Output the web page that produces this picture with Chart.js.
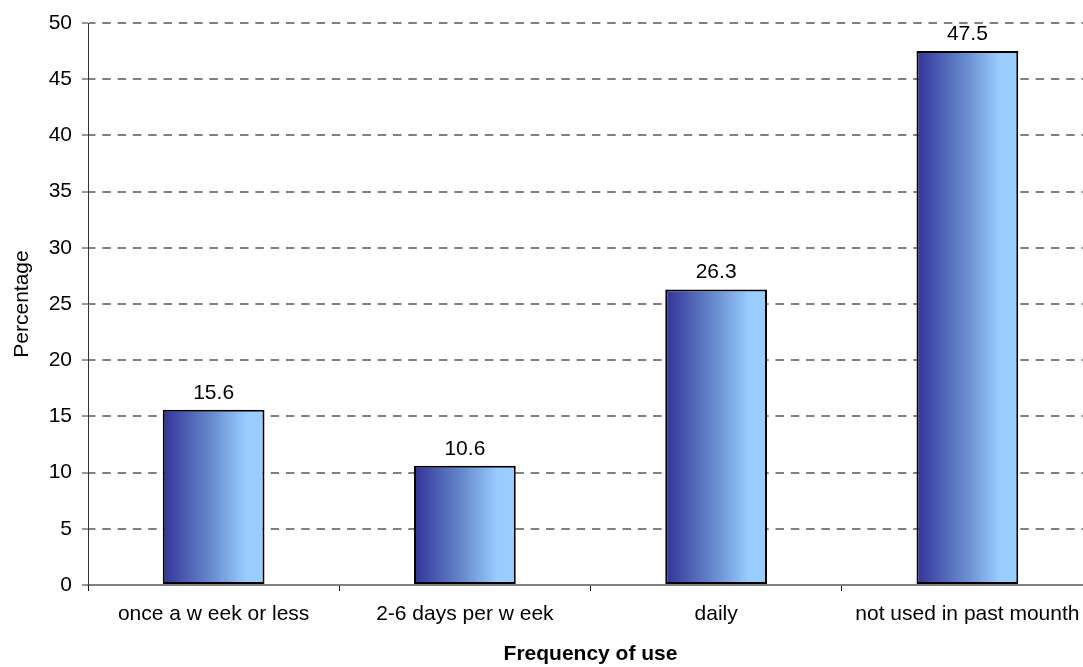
<!DOCTYPE html>
<html>
<head>
<meta charset="utf-8">
<script src="https://cdn.jsdelivr.net/npm/chart.js@4/dist/chart.umd.min.js"></script>
<style>
  html, body { margin: 0; padding: 0; background: #fff; overflow: hidden; }
  #wrap { width: 1083px; height: 667px; overflow: hidden; }
  canvas { display: block; }
</style>
</head>
<body>
<div id="wrap"><canvas id="chart" width="1100" height="667"></canvas></div>
<script>
// Frequency of use categories and their percentages
const categories = [
  'once a w eek or less',
  '2-6 days per w eek',
  'daily',
  'not used in past mounth'
];
const percentages = [15.6, 10.6, 26.3, 47.5];
const yTicks = [0, 5, 10, 15, 20, 25, 30, 35, 40, 45, 50];

const FONT = 'Liberation Sans, Arial, sans-serif';
const BAR_PCT = 0.405;

// Horizontal dark-to-light blue fill, built per bar from the x scale
function barGradient(context) {
  const chart = context.chart;
  const xScale = chart.scales.x;
  if (!chart.chartArea || !xScale || context.dataIndex === undefined) return '#6a8ed0';
  const cx = xScale.getPixelForValue(context.dataIndex);
  const half = (xScale.width / categories.length) * BAR_PCT / 2;
  const g = chart.ctx.createLinearGradient(cx - half, 0, cx + half, 0);
  g.addColorStop(0, '#333399');
  g.addColorStop(0.5, '#6a8ed0');
  g.addColorStop(0.82, '#99ccff');
  g.addColorStop(1, '#99ccff');
  return g;
}

// Value written above each bar
const valueLabels = {
  id: 'valueLabels',
  afterDatasetsDraw(chart) {
    const ctx = chart.ctx;
    const ds = chart.data.datasets[0];
    ctx.save();
    ctx.font = '21px ' + FONT;
    ctx.fillStyle = '#000';
    ctx.textAlign = 'center';
    ctx.textBaseline = 'alphabetic';
    chart.getDatasetMeta(0).data.forEach((bar, i) => {
      ctx.fillText(ds.data[i].toFixed(1), bar.x, bar.y - 11);
    });
    ctx.restore();
  }
};

new Chart(document.getElementById('chart'), {
  type: 'bar',
  data: {
    labels: categories,
    datasets: [{
      data: percentages,
      backgroundColor: barGradient,
      borderColor: '#000',
      borderWidth: 2,
      borderSkipped: false,
      categoryPercentage: 1,
      barPercentage: BAR_PCT
    }]
  },
  options: {
    responsive: false,
    animation: false,
    layout: { padding: { top: 23, right: 7, bottom: 0, left: 0 } },
    plugins: {
      legend: { display: false },
      tooltip: { enabled: false }
    },
    scales: {
      x: {
        offset: true,
        grid: {
          display: true,
          drawOnChartArea: false,
          drawTicks: true,
          offset: true,
          tickLength: 6,
          tickColor: '#000',
          tickWidth: 1
        },
        border: { display: true, color: '#808080', width: 2 },
        ticks: {
          color: '#000',
          font: { family: FONT, size: 21 },
          padding: 11,
          maxRotation: 0,
          autoSkip: false
        },
        title: {
          display: true,
          text: 'Frequency of use',
          color: '#000',
          font: { family: FONT, size: 21, weight: 'bold' },
          padding: { top: 0, bottom: 0 }
        },
        afterFit(scale) { scale.height = 82; }
      },
      y: {
        min: 0,
        max: 50,
        afterBuildTicks(scale) { scale.ticks = yTicks.map(v => ({ value: v })); },
        grid: {
          color: '#808080',
          lineWidth: 2,
          drawTicks: true,
          tickLength: 6,
          tickWidth: 1,
          tickColor: '#333',
          tickBorderDash: []
        },
        border: { display: true, color: '#333', width: 1, dash: [8.5, 6.8], dashOffset: 2 },
        ticks: {
          color: '#000',
          font: { family: FONT, size: 21 },
          padding: 10
        },
        title: {
          display: true,
          text: 'Percentage',
          color: '#000',
          font: { family: FONT, size: 21 },
          padding: { top: 10, bottom: 0 }
        },
        afterFit(scale) { scale.width = 88; }
      }
    }
  },
  plugins: [valueLabels]
});
</script>
</body>
</html>
